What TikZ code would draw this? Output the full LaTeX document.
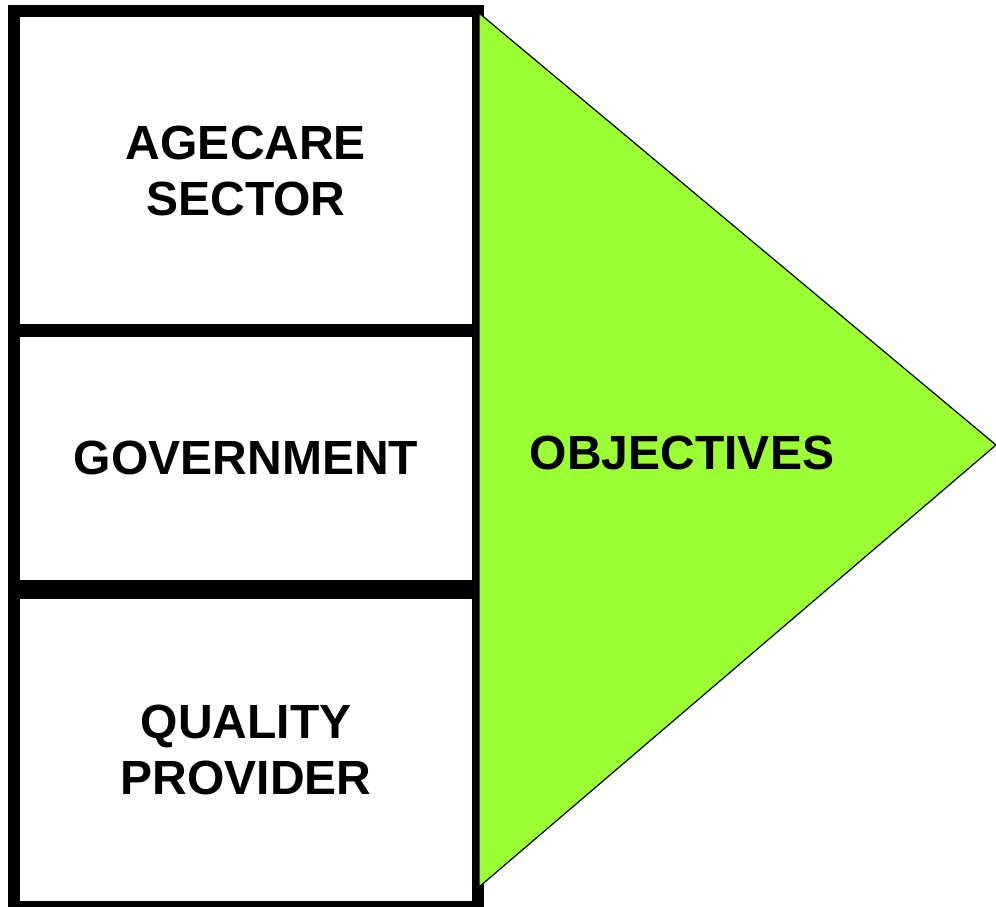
\documentclass[tikz,border=0pt]{standalone}
\usepackage{fontspec}
\setmainfont{Liberation Sans}
\usepackage{tikz}
\usepackage{xcolor}
\definecolor{objgreen}{RGB}{155,255,51}

\begin{document}
\begin{tikzpicture}[x=1pt,y=-1pt,
    party/.style={draw, line width=12pt, inner sep=0pt, minimum width=464pt,
        align=center, font=\fontsize{48}{56}\selectfont\bfseries}]
    \useasboundingbox (0,0) rectangle (996,907);

    % stacked boxes on the left
    \node[party, minimum height=320pt] (sector) at (246,171) {AGECARE\\SECTOR};
    \node[party, minimum height=256pt] (govt) at (246,458) {GOVERNMENT};
    \node[party, minimum height=314pt] (provider) at (246,750) {QUALITY\\PROVIDER};

    % arrow head
    \draw[fill=objgreen, line width=1.2pt] (479,13) -- (996,445) -- (479,887) -- cycle;
    \node[font=\fontsize{48}{56}\selectfont\bfseries] (goal) at (682,453) {OBJECTIVES};
\end{tikzpicture}
\end{document}
